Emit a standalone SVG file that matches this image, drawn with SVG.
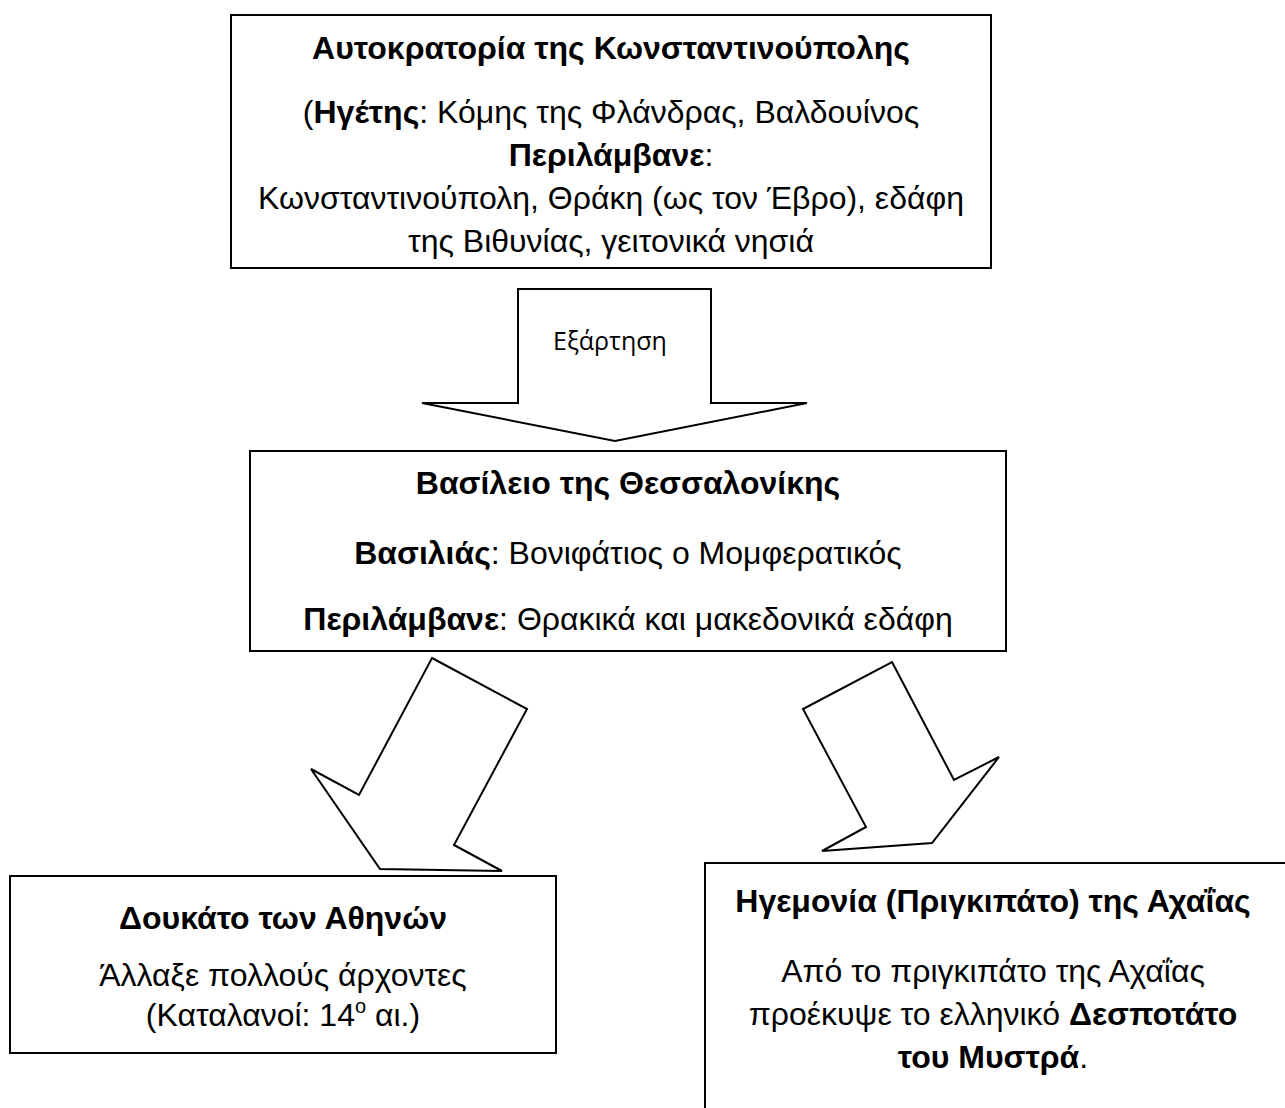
<svg xmlns="http://www.w3.org/2000/svg" width="1285" height="1108" viewBox="0 0 1285 1108">
<style>
.box{fill:#fff;stroke:#000;stroke-width:2}
.arr{fill:#fff;stroke:#000;stroke-width:2;stroke-linejoin:miter}
text{font-family:"Liberation Sans",Arial,sans-serif;font-size:32px;fill:#000;text-anchor:middle}
.b{font-weight:bold}
.lbl{font-family:"Open Sans","Noto Sans",sans-serif;font-size:25px}
</style>
<rect width="1285" height="1108" fill="#fff"/>
<g id="connectors">
<polygon class="arr" points="518,289 711,289 711,403 807,403 615,441 422,403 518,403"/>
<text class="lbl" x="610" y="350">Εξάρτηση</text>
<polygon class="arr" points="432,658 527,709 454,845 502,871 380,869 311,769 359,795"/>
<polygon class="arr" points="892,662 954,780 999,757 932,843 822,851 866,827 803,709"/>
</g>
<g id="n1">
<rect class="box" x="231" y="15" width="760" height="253"/>
<text class="b" x="611" y="59">Αυτοκρατορία της Κωνσταντινούπολης</text>
<text x="611" y="123">(<tspan class="b">Ηγέτης</tspan>: Κόμης της Φλάνδρας, Βαλδουίνος</text>
<text x="611" y="166"><tspan class="b">Περιλάμβανε</tspan>:</text>
<text x="611" y="209">Κωνσταντινούπολη, Θράκη (ως τον Έβρο), εδάφη</text>
<text x="611" y="252">της Βιθυνίας, γειτονικά νησιά</text>
</g>
<g id="n2">
<rect class="box" x="250" y="451" width="756" height="200"/>
<text class="b" x="628" y="494">Βασίλειο της Θεσσαλονίκης</text>
<text x="628" y="564"><tspan class="b">Βασιλιάς</tspan>: Βονιφάτιος ο Μομφερατικός</text>
<text x="628" y="630"><tspan class="b">Περιλάμβανε</tspan>: Θρακικά και μακεδονικά εδάφη</text>
</g>
<g id="n3">
<rect class="box" x="10" y="876" width="546" height="177"/>
<text class="b" x="283" y="929">Δουκάτο των Αθηνών</text>
<text x="283" y="986">Άλλαξε πολλούς άρχοντες</text>
<text x="283" y="1026">(Καταλανοί: 14<tspan font-size="20" dy="-13">ο</tspan><tspan dy="13"> αι.)</tspan></text>
</g>
<g id="n4">
<rect class="box" x="705" y="863" width="620" height="300"/>
<text class="b" x="993" y="912">Ηγεμονία (Πριγκιπάτο) της Αχαΐας</text>
<text x="993" y="982">Από το πριγκιπάτο της Αχαΐας</text>
<text x="993" y="1025">προέκυψε το ελληνικό <tspan class="b">Δεσποτάτο</tspan></text>
<text x="993" y="1068"><tspan class="b">του Μυστρά</tspan>.</text>
</g>
</svg>
